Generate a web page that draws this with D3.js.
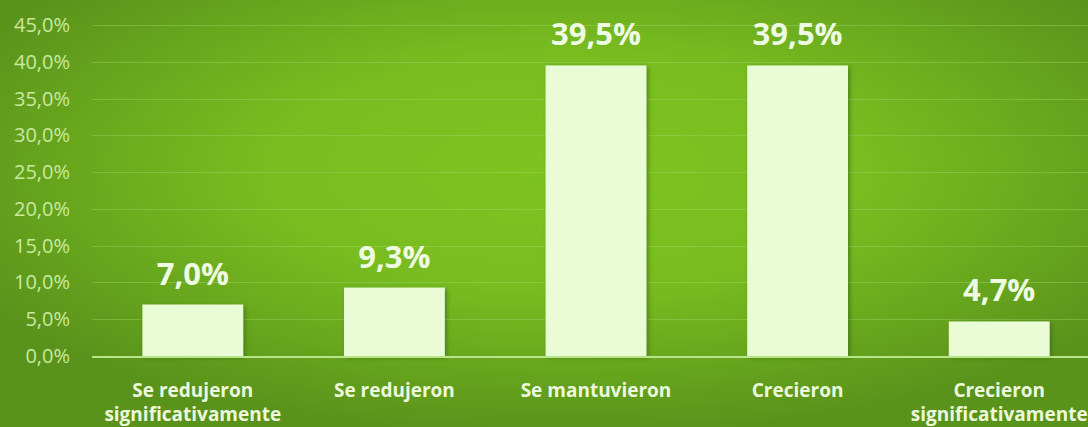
<!DOCTYPE html>
<html>
<head>
<meta charset="utf-8">
<script src="https://cdn.jsdelivr.net/npm/d3@7"></script>
<style>
  html, body { margin: 0; padding: 0; overflow: hidden; }
  svg { display: block; }
</style>
</head>
<body>
<script>
const categories = [
    ["Se redujeron", "significativamente"],
    ["Se redujeron"],
    ["Se mantuvieron"],
    ["Crecieron"],
    ["Crecieron", "significativamente"]
];
const values = [7.0, 9.3, 39.5, 39.5, 4.7];
const yTicks = [0, 5, 10, 15, 20, 25, 30, 35, 40, 45];

const chartDimensions = {
    width: 1088,
    height: 427,
    margin: { top: 25, left: 92, bottom: 70, right: -12 }
};
const fontFamily = "'Open Sans', 'DejaVu Sans', sans-serif";

let svg = d3.select("body")
    .append("svg")
    .attr("width", chartDimensions.width)
    .attr("height", chartDimensions.height);

let defs = svg.append("defs");
let bg = defs.append("radialGradient")
    .attr("id", "bg")
    .attr("cx", "52%").attr("cy", "40%").attr("r", "62%")
    .attr("gradientUnits", "objectBoundingBox");
bg.append("stop").attr("offset", "0%").attr("stop-color", "#7ec41f");
bg.append("stop").attr("offset", "45%").attr("stop-color", "#78bc20");
bg.append("stop").attr("offset", "100%").attr("stop-color", "#5a931b");

let shadow = defs.append("filter").attr("id", "shadow")
    .attr("x", "-10%").attr("y", "-10%").attr("width", "130%").attr("height", "130%");
shadow.append("feDropShadow")
    .attr("dx", 2).attr("dy", 2).attr("stdDeviation", 2)
    .attr("flood-color", "#2d5a0a").attr("flood-opacity", 0.55);

svg.append("rect")
    .attr("width", chartDimensions.width)
    .attr("height", chartDimensions.height)
    .attr("fill", "url(#bg)");

const plotRight = chartDimensions.width - chartDimensions.margin.right;
const plotBottom = chartDimensions.height - chartDimensions.margin.bottom;

let x = d3.scaleBand()
    .domain(d3.range(categories.length))
    .range([chartDimensions.margin.left, plotRight])
    .paddingInner(0.5)
    .paddingOuter(0.25);

let y = d3.scaleLinear()
    .domain([0, 45])
    .range([plotBottom - 1, chartDimensions.margin.top]);

const fmt = v => v.toFixed(1).replace(".", ",") + "%";

// gridlines
svg.append("g")
    .selectAll("line")
    .data(yTicks.filter(t => t > 0))
    .enter()
    .append("line")
    .attr("x1", chartDimensions.margin.left)
    .attr("x2", plotRight)
    .attr("y1", d => Math.round(y(d)) + 0.5)
    .attr("y2", d => Math.round(y(d)) + 0.5)
    .attr("stroke", "#a6d86a")
    .attr("stroke-opacity", 0.4)
    .attr("stroke-width", 1);

// y tick labels
svg.append("g")
    .selectAll("text")
    .data(yTicks)
    .enter()
    .append("text")
    .attr("x", 70)
    .attr("y", d => y(d) + 7)
    .attr("text-anchor", "end")
    .attr("font-family", fontFamily)
    .attr("font-size", 20)
    .attr("fill", "#c9e9a0")
    .text(d => fmt(d));

// bars
svg.append("g")
    .selectAll("rect")
    .data(values)
    .enter()
    .append("rect")
    .attr("x", (d, i) => x(i))
    .attr("y", d => y(d))
    .attr("width", x.bandwidth())
    .attr("height", d => y(0) - y(d))
    .attr("fill", "#e9fcd6")
    .attr("filter", "url(#shadow)");

// baseline
svg.append("line")
    .attr("x1", chartDimensions.margin.left)
    .attr("x2", plotRight)
    .attr("y1", y(0) + 1)
    .attr("y2", y(0) + 1)
    .attr("stroke", "#b9e48a")
    .attr("stroke-width", 2);

// value labels
svg.append("g")
    .selectAll("text")
    .data(values)
    .enter()
    .append("text")
    .attr("x", (d, i) => x(i) + x.bandwidth() / 2)
    .attr("y", d => y(d) - 20)
    .attr("text-anchor", "middle")
    .attr("font-family", fontFamily)
    .attr("font-weight", "bold")
    .attr("font-size", 31)
    .attr("fill", "#eefbe2")
    .text(d => fmt(d));

// category labels
let cat = svg.append("g")
    .selectAll("text")
    .data(categories)
    .enter()
    .append("text")
    .attr("text-anchor", "middle")
    .attr("font-family", fontFamily)
    .attr("font-weight", "bold")
    .attr("font-size", 19)
    .attr("fill", "#ecf8dc");
cat.selectAll("tspan")
    .data((d, i) => d.map(line => ({ line, i })))
    .enter()
    .append("tspan")
    .attr("x", d => x(d.i) + x.bandwidth() / 2)
    .attr("y", (d, j) => 397 + j * 24)
    .text(d => d.line);
</script>
</body>
</html>
